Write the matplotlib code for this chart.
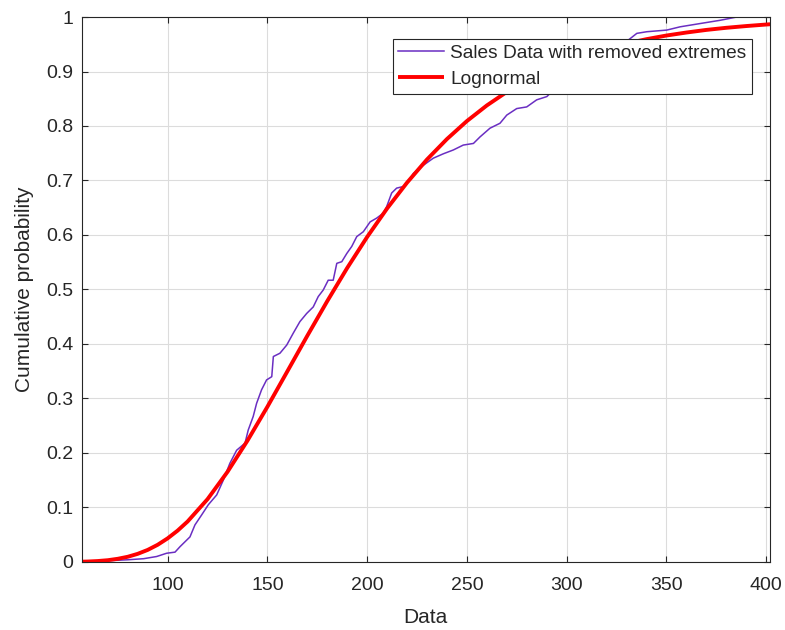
import numpy as np
import matplotlib.pyplot as plt

plt.rcParams['font.family'] = ['Liberation Sans', 'DejaVu Sans']

# empirical CDF of the trimmed sales data (x = sales value, y = cumulative share)
ecdf_x = [56.9, 80.0, 88.0, 94.5, 99.5, 103.7, 106.2, 111.2, 113.7, 117.0, 120.4,
          124.6, 127.9, 131.2, 134.6, 138.8, 140.4, 142.9, 144.6, 147.1, 149.6,
          152.2, 153.0, 156.3, 159.7, 163.0, 166.3, 169.7, 173.0, 175.5, 178.0,
          180.5, 183.0, 184.8, 187.3, 189.8, 192.3, 194.8, 198.1, 201.5, 204.8,
          208.1, 209.8, 212.3, 214.8, 218.2, 220.7, 223.2, 228.2, 233.2, 238.2,
          243.2, 248.2, 253.3, 256.6, 261.6, 266.6, 270.0, 275.0, 280.0, 285.0,
          290.1, 293.4, 300.0, 310.0, 320.0, 330.0, 335.2, 340.2, 350.2, 356.9,
          366.9, 377.0, 385.3, 402.0]
ecdf_y = [0.0, 0.004, 0.006, 0.010, 0.016, 0.018, 0.028, 0.046, 0.068, 0.086, 0.105,
          0.123, 0.150, 0.181, 0.205, 0.218, 0.242, 0.267, 0.291, 0.316, 0.334,
          0.340, 0.377, 0.383, 0.398, 0.420, 0.441, 0.456, 0.468, 0.487, 0.499,
          0.517, 0.517, 0.548, 0.551, 0.566, 0.579, 0.597, 0.606, 0.624, 0.631,
          0.640, 0.652, 0.677, 0.686, 0.689, 0.698, 0.713, 0.728, 0.741, 0.749,
          0.756, 0.765, 0.768, 0.780, 0.796, 0.805, 0.820, 0.832, 0.835, 0.848,
          0.854, 0.866, 0.885, 0.910, 0.935, 0.955, 0.970, 0.973, 0.976, 0.982,
          0.988, 0.994, 1.000, 1.000]

# fitted lognormal CDF
fit_x = [56.9, 60, 65, 70, 75, 80, 85, 90, 95, 100, 105, 110, 120, 130, 140, 150,
         160, 170, 180, 190, 200, 210, 220, 230, 240, 250, 260, 270, 280, 290,
         300, 310, 320, 330, 340, 350, 360, 370, 380, 390, 400, 402]
fit_y = [0.0005, 0.0008, 0.0017, 0.0032, 0.0058, 0.0095, 0.0149, 0.0221, 0.0315,
         0.0433, 0.0575, 0.0742, 0.1152, 0.1653, 0.2225, 0.2847, 0.3497, 0.4149,
         0.4785, 0.5394, 0.5963, 0.6486, 0.6960, 0.7385, 0.7760, 0.8090, 0.8377,
         0.8625, 0.8838, 0.9021, 0.9176, 0.9308, 0.9420, 0.9514, 0.9593, 0.9660,
         0.9715, 0.9763, 0.9802, 0.9834, 0.9862, 0.9867]

x_ticks = [100, 150, 200, 250, 300, 350, 400]
y_ticks = [0, 0.1, 0.2, 0.3, 0.4, 0.5, 0.6, 0.7, 0.8, 0.9, 1]
y_labels = ['0', '0.1', '0.2', '0.3', '0.4', '0.5', '0.6', '0.7', '0.8', '0.9', '1']

txt = '#262626'

fig = plt.figure(figsize=(7.85, 6.30), dpi=100)
ax = fig.add_axes([0.104, 0.108, 0.877, 0.865])

ax.plot(ecdf_x, ecdf_y, color='#6A2EC2', lw=1.1, label='Sales Data with removed extremes')
ax.plot(fit_x, fit_y, color='red', lw=2.8, label='Lognormal', solid_capstyle='butt')

ax.set_xlim(56.9, 402)
ax.set_ylim(0, 1)
ax.set_xticks(x_ticks)
ax.set_yticks(y_ticks)
ax.set_yticklabels(y_labels)

ax.grid(True, color='#dcdcdc', lw=0.8)
ax.set_axisbelow(True)
ax.tick_params(direction='in', length=4, width=0.8, colors=txt, labelsize=14,
               top=True, right=True)
ax.tick_params(axis='x', pad=11)
ax.tick_params(axis='y', pad=6)
for sp in ax.spines.values():
    sp.set_color(txt)
    sp.set_linewidth(0.8)

ax.set_xlabel('Data', fontsize=15, color=txt, labelpad=10)
ax.set_ylabel('Cumulative probability', fontsize=15, color=txt, labelpad=9)

leg = ax.legend(loc='upper right', bbox_to_anchor=(0.974, 0.960), fontsize=13.8,
                handlelength=2.4, fancybox=False, framealpha=1, borderpad=0.3,
                labelspacing=0.45, handletextpad=0.3, borderaxespad=0)
leg.get_frame().set_edgecolor(txt)
leg.get_frame().set_linewidth(0.8)
for t in leg.get_texts():
    t.set_color(txt)

fig.savefig('out.png', dpi=100)
